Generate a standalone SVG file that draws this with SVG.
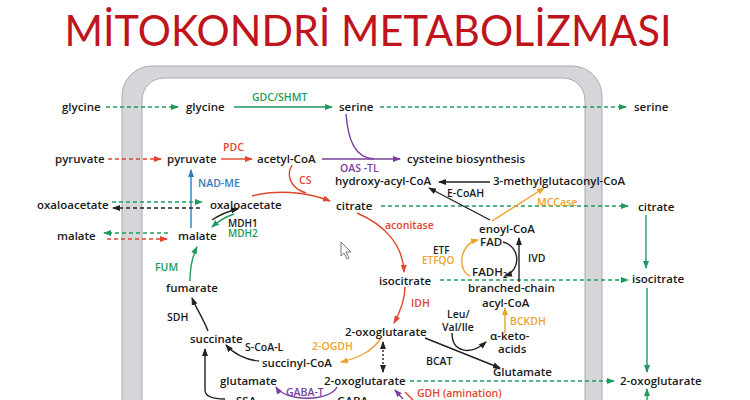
<svg xmlns="http://www.w3.org/2000/svg" width="750" height="400" viewBox="0 0 750 400">
<style>
.t{font-family:"Open Sans","Liberation Sans",sans-serif;font-weight:600;font-size:11.5px;fill:#1a1a1a}
.s{font-size:10.5px}
.xs{font-size:10px}
.g{fill:#1e9a5c}.r{fill:#e2452f}.o{fill:#eea22e}.b{fill:#2f7cb8}.p{fill:#7a3f9e}
.lg{stroke:#1e9a5c}.lr{stroke:#e2452f}.lo{stroke:#eea22e}.lb{stroke:#2f7cb8}.lp{stroke:#7a3f9e}.lk{stroke:#222}
path,line{fill:none;stroke-width:1.4}
.d{stroke-dasharray:4 3;stroke-width:1.5}
</style>
<defs>
<marker id="ag" markerUnits="userSpaceOnUse" markerWidth="8" markerHeight="6" refX="7" refY="3" orient="auto"><path d="M0,0L8,3L0,6z" style="fill:#1e9a5c;stroke:none"/></marker>
<marker id="ar" markerUnits="userSpaceOnUse" markerWidth="8" markerHeight="6" refX="7" refY="3" orient="auto"><path d="M0,0L8,3L0,6z" style="fill:#e2452f;stroke:none"/></marker>
<marker id="ao" markerUnits="userSpaceOnUse" markerWidth="8" markerHeight="6" refX="7" refY="3" orient="auto"><path d="M0,0L8,3L0,6z" style="fill:#eea22e;stroke:none"/></marker>
<marker id="ab" markerUnits="userSpaceOnUse" markerWidth="8" markerHeight="6" refX="7" refY="3" orient="auto"><path d="M0,0L8,3L0,6z" style="fill:#2f7cb8;stroke:none"/></marker>
<marker id="ap" markerUnits="userSpaceOnUse" markerWidth="8" markerHeight="6" refX="7" refY="3" orient="auto"><path d="M0,0L8,3L0,6z" style="fill:#7a3f9e;stroke:none"/></marker>
<marker id="ak" markerUnits="userSpaceOnUse" markerWidth="8" markerHeight="6" refX="7" refY="3" orient="auto-start-reverse"><path d="M0,0L8,3L0,6z" style="fill:#222;stroke:none"/></marker>
</defs>
<rect width="750" height="400" fill="#fff"/>
<text x="368" y="46" text-anchor="middle" textLength="607" lengthAdjust="spacingAndGlyphs" style="font-family:Lato,'Liberation Sans',sans-serif;font-size:42px;fill:#c0141c">MİTOKONDRİ METABOLİZMASI</text>
<g id="membrane">
<path d="M122,410V96A30,30 0 0 1 152,66H572A30,30 0 0 1 602,96V410ZM142,410V100A22,22 0 0 1 164,78H563A22,22 0 0 1 585,100V410Z" fill-rule="evenodd" style="fill:#d5d6da;stroke:#a9aab0;stroke-width:1"/>
</g>
<g id="connectors">
<path class="lg d" d="M106,107H178" marker-end="url(#ag)"/>
<path class="lg" d="M234,107H332" marker-end="url(#ag)"/>
<path class="lg d" d="M380,107H626" marker-end="url(#ag)"/>
<path class="lr d" d="M108,159H161" marker-end="url(#ar)"/>
<path class="lr" d="M221,159H252" marker-end="url(#ar)"/>
<path class="lp" d="M322,159H400" marker-end="url(#ap)"/>
<path class="lp" d="M346,114C348,140 355,158 374,159"/>
<path class="lr" d="M292,165C286,175 290,188 306,193"/>
<path class="lr" d="M252,196C275,190 305,191 330,201" marker-end="url(#ar)"/>
<path class="lb" d="M191,228V170" marker-end="url(#ab)"/>
<path class="lg d" d="M112,202H202" marker-end="url(#ag)"/>
<path class="lk d" d="M200,208H113" marker-end="url(#ak)"/>
<path class="lk" d="M212,220Q224,212 238,209" marker-end="url(#ak)"/>
<path class="lg" d="M234,214Q222,218 212,227" marker-end="url(#ag)"/>
<path class="lg d" d="M168,233H104" marker-end="url(#ag)"/>
<path class="lr d" d="M107,239H167" marker-end="url(#ar)"/>
<path class="lg" d="M190,281C190,265 193,255 197,247" marker-end="url(#ag)"/>
<path class="lk" d="M208,331C203,318 196,308 192,298" marker-end="url(#ak)"/>
<path class="lk" d="M259,361C245,360 233,353 226,345" marker-end="url(#ak)"/>
<path class="lo" d="M381,338C372,352 358,358 341,362" marker-end="url(#ao)"/>
<path class="lr" d="M405,287C405,300 400,312 394,323" marker-end="url(#ar)"/>
<path class="lr" d="M357,213C385,225 403,245 404,272" marker-end="url(#ar)"/>
<path class="lg d" d="M381,206H628" marker-end="url(#ag)"/>
<path class="lg d" d="M440,280H628" marker-end="url(#ag)"/>
<path class="lg" d="M646,215V268" marker-end="url(#ag)"/>
<path class="lg" d="M647,288V372" marker-end="url(#ag)"/>
<path class="lg" d="M647,402V389" marker-end="url(#ag)"/>
<path class="lg d" d="M410,381H614" marker-end="url(#ag)"/>
<path class="lk" d="M383,342V372" style="stroke-dasharray:2 2" marker-start="url(#ak)" marker-end="url(#ak)"/>
<path class="lk" d="M425,338L500,368" marker-end="url(#ak)"/>
<path class="lk" d="M452,333C452,352 470,356 486,342" marker-end="url(#ak)"/>
<path class="lo" d="M505,333V308" marker-end="url(#ao)"/>
<path class="lk" d="M519,282V238" marker-end="url(#ak)"/>
<path class="lk" d="M503,242C520,246 522,270 505,276" marker-end="url(#ak)"/>
<path class="lo" d="M470,276C458,272 458,244 478,240" marker-end="url(#ao)"/>
<path class="lo" d="M492,221L544,188" marker-end="url(#ao)"/>
<path class="lk" d="M490,220L429,188" marker-end="url(#ak)"/>
<path class="lk" d="M490,182H439" marker-end="url(#ak)"/>
<path class="lk" d="M225,399Q205,399 205,390V349" marker-end="url(#ak)"/>
<path class="lp" d="M337,387C330,402 285,402 276,387" marker-end="url(#ap)"/>
<path class="lp" d="M403,399L395,390" marker-end="url(#ap)"/>
<path class="lr" d="M413,400L405,392"/>
</g>
<g id="labels">
<text class="t g s" x="252" y="101">GDC/SHMT</text>
<text class="t r s" x="223" y="151">PDC</text>
<text class="t p s" x="340" y="172">OAS -TL</text>
<text class="t r s" x="299" y="184">CS</text>
<text class="t b s" x="198" y="187">NAD-ME</text>
<text class="t xs" x="228" y="227">MDH1</text>
<text class="t g xs" x="228" y="237">MDH2</text>
<text class="t g s" x="155" y="271">FUM</text>
<text class="t s" x="167" y="321">SDH</text>
<text class="t s" x="245" y="351">S-CoA-L</text>
<text class="t o s" x="312" y="350">2-OGDH</text>
<text class="t r s" x="411" y="307">IDH</text>
<text class="t r s" x="385" y="229">aconitase</text>
<text class="t o s" x="537" y="206">MCCase</text>
<text class="t s" x="447" y="197">E-CoAH</text>
<text class="t xs" x="433" y="254">ETF</text>
<text class="t o xs" x="422" y="264">ETFQO</text>
<text class="t s" x="528" y="262">IVD</text>
<text class="t o s" x="510" y="325">BCKDH</text>
<text class="t s" x="426" y="365">BCAT</text>
<text class="t p s" x="286" y="396">GABA-T</text>
<text class="t r s" x="417" y="397">GDH (amination)</text>
</g>
<g id="n-glycine-out"><text class="t" x="62" y="111">glycine</text></g>
<g id="n-glycine"><text class="t" x="186" y="111">glycine</text></g>
<g id="n-serine"><text class="t" x="339" y="111">serine</text></g>
<g id="n-serine-out"><text class="t" x="634" y="111">serine</text></g>
<g id="n-pyruvate-out"><text class="t" x="55" y="163">pyruvate</text></g>
<g id="n-pyruvate"><text class="t" x="167" y="163">pyruvate</text></g>
<g id="n-acetylcoa"><text class="t" x="257" y="163">acetyl-CoA</text></g>
<g id="n-cysteine"><text class="t" x="407" y="163">cysteine biosynthesis</text></g>
<g id="n-hydroxy"><text class="t" x="335" y="185">hydroxy-acyl-CoA</text></g>
<g id="n-methylglut"><text class="t" x="493" y="185">3-methylglutaconyl-CoA</text></g>
<g id="n-oaa-out"><text class="t" x="37" y="209">oxaloacetate</text></g>
<g id="n-oaa"><text class="t" x="210" y="209">oxaloacetate</text></g>
<g id="n-citrate"><text class="t" x="336" y="210">citrate</text></g>
<g id="n-citrate-out"><text class="t" x="638" y="211">citrate</text></g>
<g id="n-enoyl"><text class="t" x="479" y="233">enoyl-CoA</text></g>
<g id="n-fad"><text class="t" x="480" y="246">FAD</text></g>
<g id="n-fadh2"><text class="t" x="472" y="276">FADH<tspan font-size="8" dy="2">2</tspan></text></g>
<g id="n-malate-out"><text class="t" x="57" y="240">malate</text></g>
<g id="n-malate"><text class="t" x="178" y="240">malate</text></g>
<g id="n-isocitrate"><text class="t" x="379" y="285">isocitrate</text></g>
<g id="n-isocitrate-out"><text class="t" x="632" y="283">isocitrate</text></g>
<g id="n-fumarate"><text class="t" x="166" y="292">fumarate</text></g>
<g id="n-bcacyl"><text class="t" x="468" y="292">branched-chain</text><text class="t" x="482" y="307">acyl-CoA</text></g>
<g id="n-bcaa"><text class="t s" x="447" y="318">Leu/</text><text class="t s" x="442" y="331">Val/Ile</text></g>
<g id="n-keto"><text class="t" x="490" y="340">α-keto-</text><text class="t" x="498" y="353">acids</text></g>
<g id="n-2og"><text class="t" x="345" y="336">2-oxoglutarate</text></g>
<g id="n-succinate"><text class="t" x="190" y="343">succinate</text></g>
<g id="n-succinylcoa"><text class="t" x="262" y="367">succinyl-CoA</text></g>
<g id="n-Glutamate"><text class="t" x="493" y="376">Glutamate</text></g>
<g id="n-glutamate"><text class="t" x="220" y="385">glutamate</text></g>
<g id="n-2og-b"><text class="t" x="324" y="385">2-oxoglutarate</text></g>
<g id="n-2og-out"><text class="t" x="620" y="385">2-oxoglutarate</text></g>
<g id="n-ssa"><text class="t" x="236" y="405">SSA</text></g>
<g id="n-gaba"><text class="t" x="337" y="405">GABA</text></g>
<g id="cursor"><path d="M341,242V256L344,253L347,259L349,258L346,252L351,252Z" style="fill:#fff;stroke:#777;stroke-width:1"/></g>
</svg>
